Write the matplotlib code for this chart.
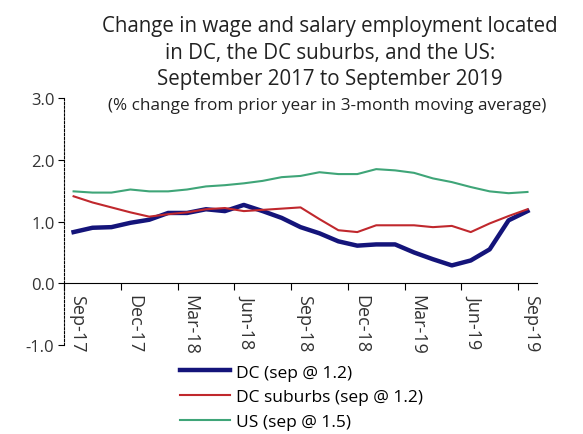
import matplotlib
matplotlib.use('Agg')
import matplotlib.pyplot as plt
import matplotlib.transforms as mtransforms
import numpy as np

plt.rcParams['font.family'] = ['Open Sans', 'DejaVu Sans']

months = ['Sep-17', 'Oct-17', 'Nov-17', 'Dec-17', 'Jan-18', 'Feb-18', 'Mar-18', 'Apr-18',
          'May-18', 'Jun-18', 'Jul-18', 'Aug-18', 'Sep-18', 'Oct-18', 'Nov-18', 'Dec-18',
          'Jan-19', 'Feb-19', 'Mar-19', 'Apr-19', 'May-19', 'Jun-19', 'Jul-19', 'Aug-19', 'Sep-19']
dc = [0.83, 0.90, 0.91, 0.98, 1.03, 1.14, 1.14, 1.20, 1.17, 1.27, 1.17, 1.06, 0.91,
      0.81, 0.68, 0.61, 0.63, 0.63, 0.50, 0.39, 0.29, 0.37, 0.55, 1.02, 1.17]
suburbs = [1.41, 1.31, 1.23, 1.15, 1.08, 1.12, 1.15, 1.20, 1.22, 1.17, 1.19, 1.21, 1.23,
           1.04, 0.86, 0.83, 0.94, 0.94, 0.94, 0.91, 0.93, 0.83, 0.97, 1.09, 1.20]
us = [1.49, 1.47, 1.47, 1.52, 1.49, 1.49, 1.52, 1.57, 1.59, 1.62, 1.66, 1.72, 1.74,
      1.80, 1.77, 1.77, 1.85, 1.83, 1.79, 1.70, 1.64, 1.56, 1.49, 1.46, 1.48]
labels = ['DC (sep @ 1.2)', 'DC suburbs (sep @ 1.2)', 'US (sep @ 1.5)']
tick_labels = months[::3]

fig = plt.figure(figsize=(5.83, 4.35), dpi=100)
ax = fig.add_axes([0.110, 0.2046, 0.811, 0.5674])

# spines first: moving the bottom spine resets the x ticks
ax.spines['top'].set_visible(False)
ax.spines['right'].set_visible(False)
ax.spines['bottom'].set_position(('data', 0))
ax.spines['left'].set_linestyle((0, (2, 1.5)))

x = np.arange(len(months)) + 0.5
ax.plot(x, dc, color='#14147a', lw=3.2, label=labels[0])
ax.plot(x, suburbs, color='#c0282d', lw=1.5, label=labels[1])
ax.plot(x, us, color='#3fa578', lw=1.5, label=labels[2])

ax.set_xlim(0, len(months))
ax.set_ylim(-1, 3)
ax.set_yticks([-1, 0, 1, 2, 3])
ax.set_yticklabels(['-1.0', '0.0', '1.0', '2.0', '3.0'], fontsize=12, color='#333333')
ax.set_xticks(np.arange(0, len(months), 3))
ax.set_xticklabels(tick_labels, fontsize=13, color='#333333')

ax.tick_params(axis='x', direction='out', length=5, pad=3, labelrotation=-90)
ax.tick_params(axis='y', direction='out', length=4, pad=3)
shift = mtransforms.ScaledTranslation(0.04, 0, fig.dpi_scale_trans)
for lab in ax.get_xticklabels():
    lab.set_ha('left')
    lab.set_va('top')
    lab.set_transform(lab.get_transform() + shift)

fig.text(0.566, 0.878, 'Change in wage and salary employment located\nin DC, the DC suburbs, and the US:\nSeptember 2017 to September 2019',
         ha='center', va='center', fontsize=14.8, linespacing=1.36, color='#222222')
fig.text(0.561, 0.757, '(% change from prior year in 3-month moving average)',
         ha='center', va='center', fontsize=12.3, color='#222222')

fig.legend(loc='upper left', bbox_to_anchor=(0.309, 0.16), frameon=False, fontsize=12.5,
           handlelength=2.85, handletextpad=0.35, labelspacing=0.5, borderaxespad=0, borderpad=0)

fig.savefig('out.png', dpi=100)
